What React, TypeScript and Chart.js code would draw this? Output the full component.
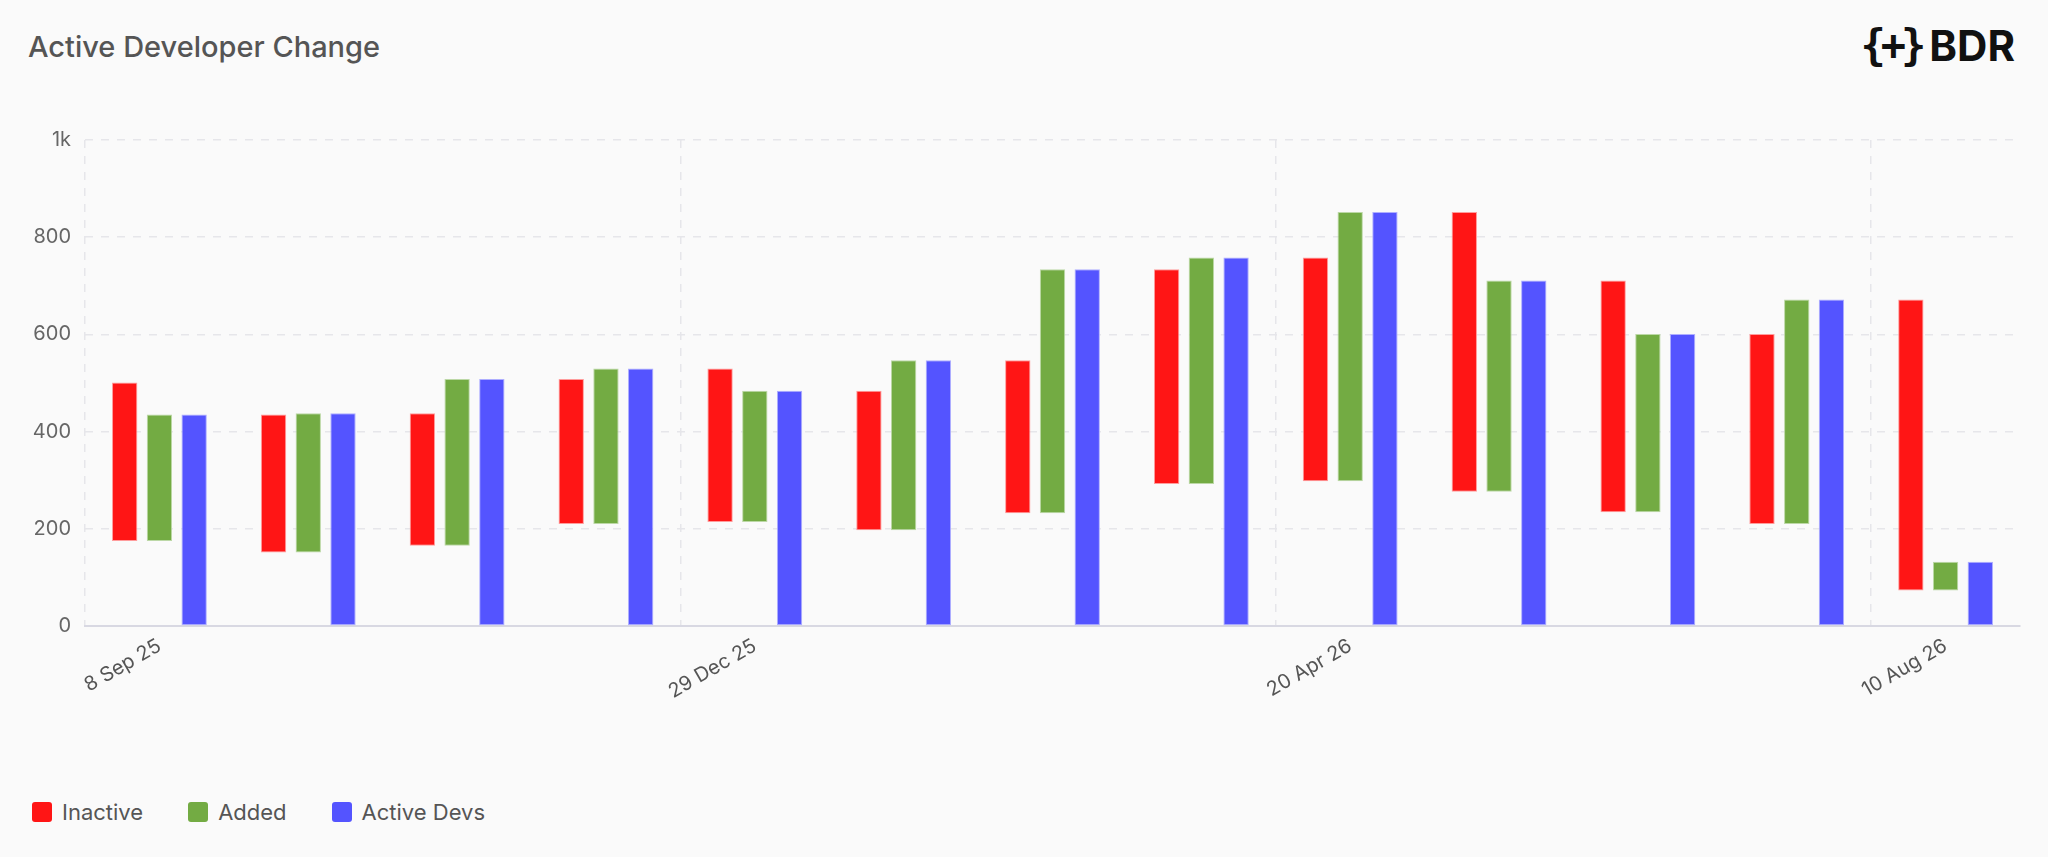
import { useEffect, useRef } from 'react';
import { Chart, registerables } from 'chart.js';

Chart.register(...registerables);

// 4-weekly periods
const periods = [
  '8 Sep 25', '6 Oct 25', '3 Nov 25', '1 Dec 25', '29 Dec 25', '26 Jan 26', '23 Feb 26',
  '23 Mar 26', '20 Apr 26', '18 May 26', '15 Jun 26', '13 Jul 26', '10 Aug 26',
];
// active devs at the start of each period (top of the red bar)
const openingDevs = [501, 435, 438, 508, 530, 484, 547, 734, 758, 852, 711, 601, 672];
// what is left after the inactive devs drop off (bottom of red / green bars)
const afterInactive = [175, 151, 165, 210, 214, 197, 232, 292, 298, 276, 234, 210, 73];
// active devs at the end of each period
const activeDevs = [435, 438, 508, 530, 484, 547, 734, 758, 852, 711, 601, 672, 132];

const yTicks = [0, 200, 400, 600, 800, 1000];

const RED = '#ff1515';
const GREEN = '#73ab43';
const BLUE = '#5454ff';
const FONT = 'Inter, "Noto Sans", sans-serif';
const gridColor = '#e6e6ea';

const legendItems = [
  { label: 'Inactive', color: RED },
  { label: 'Added', color: GREEN },
  { label: 'Active Devs', color: BLUE },
];

export default function App() {
  const canvasRef = useRef<HTMLCanvasElement>(null);

  useEffect(() => {
    if (!canvasRef.current) return;

    const chart = new Chart(canvasRef.current, {
      type: 'bar',
      data: {
        labels: periods,
        datasets: [
          {
            label: 'Inactive',
            data: periods.map((_, i) => [afterInactive[i], openingDevs[i]]),
            backgroundColor: RED,
            borderColor: '#ff9c9c',
            borderWidth: 1,
            borderSkipped: false,
          },
          {
            label: 'Added',
            data: periods.map((_, i) => [afterInactive[i], activeDevs[i]]),
            backgroundColor: GREEN,
            borderColor: '#bcd8a6',
            borderWidth: 1,
            borderSkipped: false,
          },
          {
            label: 'Active Devs',
            data: activeDevs,
            backgroundColor: BLUE,
            borderColor: '#aeaeff',
            borderWidth: 1,
            borderSkipped: false,
          },
        ],
      },
      options: {
        animation: false,
        responsive: true,
        maintainAspectRatio: false,
        categoryPercentage: 0.7,
        barPercentage: 0.73,
        layout: { padding: { top: 50, right: 28, left: 0, bottom: 0 } },
        scales: {
          x: {
            grid: {
              offset: true,
              drawTicks: false,
              color: (ctx: any) => (ctx.index % 4 === 0 ? gridColor : 'transparent'),
              lineWidth: 1.5,
            },
            border: { display: true, color: '#d8d8e2', width: 2, dash: [8, 8] },
            ticks: {
              autoSkip: false,
              minRotation: 30,
              maxRotation: 30,
              padding: 8,
              color: '#555',
              font: { family: FONT, size: 20 },
              callback: (_v: any, i: number) => (i % 4 === 0 ? periods[i] : ''),
            },
            afterFit: (scale: any) => { scale.height = 104; },
          },
          y: {
            min: 0,
            max: 1000,
            afterBuildTicks: (scale: any) => { scale.ticks = yTicks.map(v => ({ value: v })); },
            grid: { color: gridColor, lineWidth: 1.5, drawTicks: false },
            border: { display: false, dash: [8, 8] },
            ticks: {
              padding: 14,
              color: '#666',
              font: { family: FONT, size: 20 },
              callback: (v: any) => (v >= 1000 ? v / 1000 + 'k' : String(v)),
            },
            afterFit: (scale: any) => { scale.width = 85; },
          },
        },
        plugins: {
          legend: { display: false },
          tooltip: { enabled: false },
        },
      },
    } as any);

    return () => { chart.destroy(); };
  }, []);

  return (
    <div style={{ position: 'fixed', inset: 0, background: '#fafafa', fontFamily: FONT, overflow: 'hidden' }}>
      <div style={{ position: 'absolute', left: 28, top: 33, fontSize: 29, lineHeight: '28px', fontWeight: 500, color: '#555' }}>
        Active Developer Change
      </div>

      <div style={{ position: 'absolute', right: 33, top: 22, display: 'flex', alignItems: 'center', color: '#111' }}>
        <span style={{ fontFamily: '"DejaVu Sans Mono", monospace', fontWeight: 700, fontSize: 42, letterSpacing: -5, lineHeight: '48px' }}>{'{+}'}</span>
        <span style={{ fontWeight: 700, fontSize: 42, lineHeight: '48px', marginLeft: 8 }}>BDR</span>
      </div>

      <div style={{ position: 'absolute', left: 0, top: 90, width: 2048, height: 640 }}>
        <canvas ref={canvasRef} />
      </div>

      <div style={{ position: 'absolute', left: 32, top: 802, display: 'flex', alignItems: 'center' }}>
        {legendItems.map(item => (
          <div key={item.label} style={{ display: 'flex', alignItems: 'center', marginRight: 45 }}>
            <span style={{ width: 20, height: 20, borderRadius: 3, background: item.color, display: 'inline-block' }} />
            <span style={{ marginLeft: 10, fontSize: 22, lineHeight: '20px', color: '#555' }}>{item.label}</span>
          </div>
        ))}
      </div>
    </div>
  );
}
